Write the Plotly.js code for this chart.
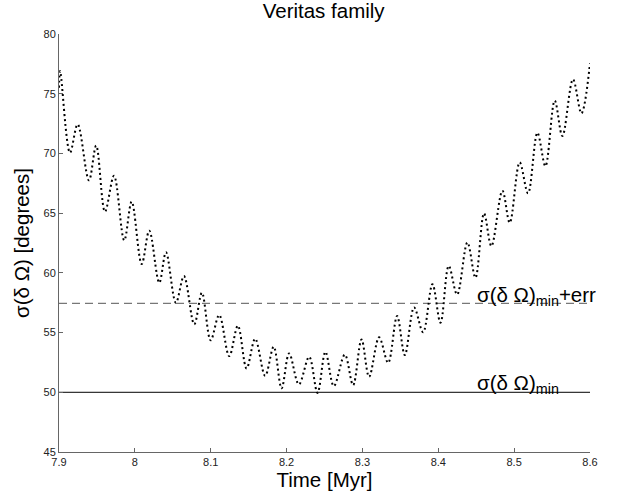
<!DOCTYPE html>
<html>
<head>
<meta charset="utf-8">
<script src="https://cdn.plot.ly/plotly-3.0.1.min.js"></script>
<style>html,body{margin:0;padding:0;background:#fff;}#chart{width:626px;height:495px;}</style>
</head>
<body>
<div id="chart"></div>
<script>
// Extrema of the dotted curve (Time [Myr], sigma [deg])
const timeMyr = [7.900, 7.9015, 7.9145, 7.9246, 7.9395, 7.949, 7.9606, 7.9725, 7.986, 7.9958,
  8.009, 8.019, 8.0322, 8.041, 8.0541, 8.0647, 8.0783, 8.0884, 8.0999, 8.1112,
  8.1244, 8.1358, 8.1473, 8.1586, 8.1718, 8.1830, 8.1934, 8.2034, 8.2162, 8.2298,
  8.2408, 8.2512, 8.2623, 8.2768, 8.2877, 8.2988, 8.3088, 8.322, 8.3339, 8.3457,
  8.3559, 8.3681, 8.380, 8.3923, 8.4029, 8.4138, 8.4248, 8.4384, 8.449, 8.4603,
  8.470, 8.4845, 8.4942, 8.5073, 8.5183, 8.5307, 8.5412, 8.5535, 8.5636, 8.5776,
  8.5887, 8.600];
const sigmaDeg = [75.5, 76.9, 70.06, 72.44, 67.75, 70.65, 65.12, 68.13, 62.72, 65.96,
  60.74, 63.53, 59.17, 61.72, 57.5, 59.73, 55.69, 58.33, 54.35, 56.47,
  53.03, 55.57, 52.0, 54.48, 51.38, 53.81, 50.33, 53.25, 50.66, 52.97,
  49.95, 53.38, 50.52, 53.15, 50.6, 54.42, 51.3, 54.6, 52.47, 56.38,
  53.12, 57.1, 55.03, 59.05, 55.82, 60.58, 58.18, 62.54, 59.59, 64.98,
  62.24, 66.88, 64.2, 69.25, 66.66, 71.73, 68.94, 74.42, 71.46, 76.2,
  73.36, 77.55];
const xSpan = [7.9, 8.6];
const sigmaMin = 50;
const sigmaMinErr = 57.45;
const xTicks = [7.9, 8, 8.1, 8.2, 8.3, 8.4, 8.5, 8.6];
const xTickText = ['7.9', '8', '8.1', '8.2', '8.3', '8.4', '8.5', '8.6'];
const yTicks = [45, 50, 55, 60, 65, 70, 75, 80];

const FONT = 'Liberation Sans, Arial, Helvetica, sans-serif';
const BIG = 20.5;

const traces = [
  {x: xSpan, y: [sigmaMinErr, sigmaMinErr], mode: 'lines', line: {color: '#555', width: 1, dash: '8px,5px'}, hoverinfo: 'skip'},
  {x: xSpan, y: [sigmaMin, sigmaMin], mode: 'lines', line: {color: '#000', width: 1}, hoverinfo: 'skip'},
  {x: timeMyr, y: sigmaDeg, mode: 'lines', line: {color: '#000', width: 2, dash: '2px,3px', shape: 'spline', smoothing: 1}}
];

const layout = {
  width: 626, height: 495,
  margin: {l: 59, r: 36, t: 34, b: 43},
  paper_bgcolor: '#fff', plot_bgcolor: '#fff',
  showlegend: false,
  font: {family: FONT, color: '#000'},
  title: {text: 'Veritas family', x: 0.517, xanchor: 'center', y: 0.992, yanchor: 'top', font: {size: BIG, family: FONT, color: '#000'}},
  xaxis: {
    range: [7.9, 8.6], tickvals: xTicks, ticktext: xTickText,
    ticks: 'inside', ticklen: 4, tickcolor: '#666', tickwidth: 1,
    showline: true, linecolor: '#666', linewidth: 1, mirror: false,
    showgrid: false, zeroline: false,
    tickfont: {size: 11, family: FONT, color: '#222'},
    title: {text: 'Time [Myr]', font: {size: BIG, family: FONT, color: '#000'}, standoff: 2}
  },
  yaxis: {
    range: [45, 80], tickvals: yTicks,
    ticks: 'inside', ticklen: 4, tickcolor: '#666', tickwidth: 1,
    showline: true, linecolor: '#666', linewidth: 1, mirror: false,
    showgrid: false, zeroline: false,
    tickfont: {size: 11, family: FONT, color: '#222'},
    title: {text: 'σ(δ Ω) [degrees]', font: {size: BIG, family: FONT, color: '#000'}, standoff: 8}
  },
  annotations: [
    {x: 8.449, y: sigmaMinErr, xref: 'x', yref: 'y', xanchor: 'left', yanchor: 'middle', yshift: 7,
     text: 'σ(δ Ω)<sub>min</sub>+err', showarrow: false, font: {size: BIG, family: FONT, color: '#000'}},
    {x: 8.449, y: sigmaMin, xref: 'x', yref: 'y', xanchor: 'left', yanchor: 'middle', yshift: 8,
     text: 'σ(δ Ω)<sub>min</sub>', showarrow: false, font: {size: BIG, family: FONT, color: '#000'}}
  ]
};

Plotly.newPlot('chart', traces, layout, {staticPlot: true, displayModeBar: false});
</script>
</body>
</html>
